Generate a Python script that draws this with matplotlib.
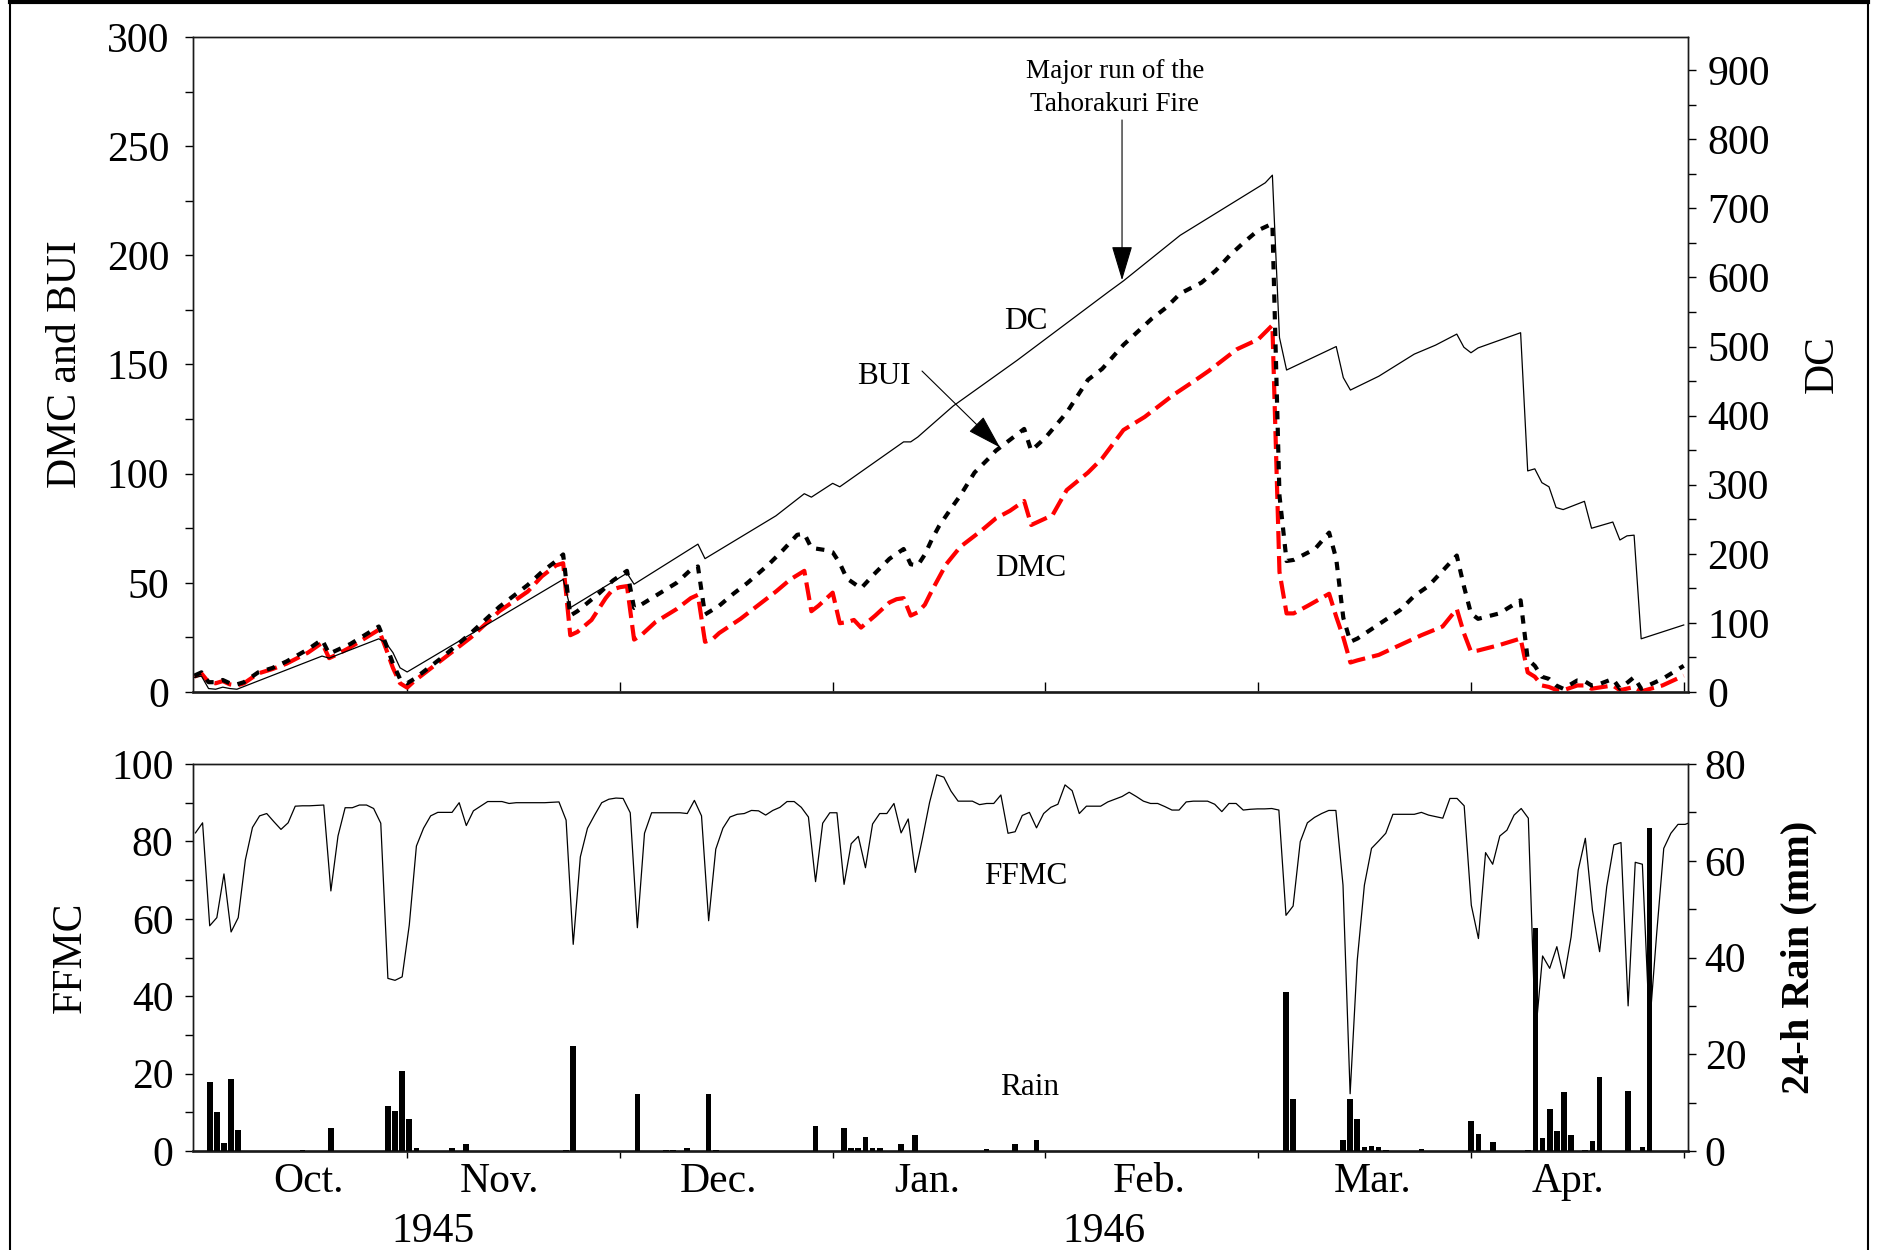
import numpy as np
import matplotlib
matplotlib.use('Agg')
import matplotlib.pyplot as plt
from matplotlib.ticker import MultipleLocator, FixedLocator
from matplotlib.lines import Line2D

plt.rcParams['font.family'] = 'Liberation Serif'

# Day number counted from the first day of the record (late Sept. 1945)
# DC (right axis, top panel)
dc_day = [0, 1, 2, 3, 4, 5, 6, 18, 19, 26, 27, 28, 29, 30, 52, 53, 61, 62, 71, 72,
          82, 86, 87, 90, 91, 100, 101, 102, 107, 116, 129, 131, 139, 145, 151, 152,
          153, 154, 161, 162, 163, 167, 172, 175, 178, 179, 180, 181, 187, 188, 189,
          190, 191, 192, 193, 196, 197, 200, 201, 202, 203, 204, 210]
dc_val = [21, 23, 5, 4, 7, 5, 4, 52, 49, 77, 71, 57, 35, 29, 163, 122, 172, 156, 214, 193,
          255, 287, 282, 302, 297, 362, 362, 369, 414, 480, 580, 595, 661, 699, 737, 748,
          513, 466, 500, 455, 437, 457, 489, 502, 518, 499, 491, 498, 520, 320, 323,
          303, 297, 267, 264, 276, 237, 246, 220, 226, 227, 77, 97]

# BUI (left axis, top panel)
bui_day = [0, 1, 2, 3, 4, 5, 6, 7, 9, 11, 13, 16, 18, 19, 20, 22, 24, 26, 27, 28, 29, 30,
           31, 33, 35, 37, 39, 41, 43, 45, 47, 49, 51, 52, 53, 54, 57, 59, 61, 62, 63, 65,
           68, 70, 71, 72, 74, 76, 78, 81, 83, 85, 86, 87, 89, 90, 91, 92, 94, 96, 98,
           100, 101, 102, 103, 104, 105, 107, 108, 110, 112, 113, 115, 117, 118, 120,
           123, 126, 128, 131, 133, 135, 137, 139, 142, 144, 146, 148, 150, 152, 153,
           154, 155, 158, 160, 161, 162, 163, 164, 167, 170, 172, 174, 176, 178, 179,
           180, 181, 184, 187, 188, 189, 190, 191, 192, 193, 195, 196, 197, 198, 200,
           201, 203, 204, 207, 210]
bui_val = [7.5, 9, 4.5, 4.5, 5.5, 4, 3.5, 4.5, 9, 11, 14, 19.5, 24, 17.5, 19, 22, 26, 30,
           22, 13, 6, 4, 6, 11, 16, 21.5, 27, 33, 39, 44, 49, 55, 60, 63, 35, 37, 45, 51,
           55.5, 38.5, 40, 44, 50, 56, 57.5, 35.5, 39.5, 45, 50, 58.5, 65, 72, 72.5, 66,
           65, 64, 59, 52, 47.5, 54.5, 61, 65.5, 58.5, 58, 63, 70, 76, 85.5, 90, 100.5,
           107, 110.5, 115.5, 120.5, 110.5, 116.5, 128, 143, 148, 159, 165, 171, 176,
           182.5, 187.5, 193, 200, 206, 211.5, 214.5, 90, 60, 60.5, 65.5, 73, 61, 34, 23,
           24.5, 31, 37.5, 44, 48.5, 55.5, 62.5, 48.5, 36, 33.5, 36, 42, 15, 12, 7, 6, 3,
           1.5, 5.3, 5, 3, 3.5, 6, 1.5, 6.8, 1.5, 6, 12]

# DMC (left axis, top panel)
dmc_day = [0, 1, 2, 3, 4, 5, 6, 7, 9, 11, 13, 16, 18, 19, 20, 22, 24, 26, 27, 28, 29, 30,
           31, 33, 35, 37, 39, 41, 43, 45, 47, 49, 51, 52, 53, 54, 56, 57, 58, 59, 60, 61,
           62, 63, 65, 68, 70, 71, 72, 73, 74, 77, 80, 82, 84, 86, 87, 88, 90, 91, 92, 93,
           94, 96, 98, 99, 100, 101, 102, 103, 104, 106, 108, 111, 113, 115, 117, 118,
           119, 121, 123, 126, 128, 131, 134, 136, 138, 141, 143, 145, 147, 150, 152,
           153, 154, 155, 157, 160, 161, 162, 163, 164, 167, 170, 173, 176, 178, 179,
           180, 181, 184, 187, 188, 189, 190, 191, 192, 193, 195, 196, 197, 198, 200,
           201, 203, 204, 207, 210]
dmc_val = [7, 8.5, 4.5, 4, 5, 3.5, 3, 4, 8.5, 10.5, 13, 18, 22.5, 15.5, 17, 20.5, 24.5,
           28.5, 20, 11, 4, 2, 5, 10, 15, 20, 25, 31, 37, 41.5, 46, 53, 58, 59, 26, 27.5,
           33, 38, 43, 47, 48, 48.5, 24, 26, 32, 38, 43, 44.5, 23, 24, 27, 33.5, 41, 46,
           51.5, 55.5, 37, 39.5, 45.5, 31.5, 32, 33, 29.5, 35, 41, 42.5, 43, 35, 36.5, 40,
           46.5, 58.5, 66.5, 74, 79.5, 83, 87.5, 76.5, 78, 81, 92.5, 100.5, 107, 120, 126,
           131, 136, 142.5, 147, 152, 157, 161.5, 168, 55, 36, 36, 39.5, 45, 34.5, 25,
           13.5, 14.5, 17, 21.5, 26, 30, 38, 27, 18.5, 19, 21.5, 24.5, 9, 7, 3, 2.3, 1,
           0.8, 3, 3, 1.5, 2, 3, 0.8, 2.3, 0.3, 3, 7.5]

# FFMC, one value per day (bottom panel, left axis)
ffmc = [82.2, 84.8, 58.2, 60.3, 71.6, 56.6, 60.3, 75.2, 83.6, 86.6,
        87.2, 85.1, 83.1, 84.8, 89.1, 89.2, 89.2, 89.3, 89.4, 67.2,
        81.4, 88.7, 88.7, 89.4, 89.4, 88.5, 84.7, 44.6, 44.1, 45.0,
        58.4, 78.8, 83.4, 86.6, 87.5, 87.5, 87.5, 90.0, 84.1, 87.9,
        89.1, 90.3, 90.3, 90.3, 89.8, 90.0, 90.0, 90.0, 90.0, 90.0,
        90.1, 90.2, 85.5, 53.4, 76.0, 83.4, 86.8, 90.0, 90.9, 91.2,
        91.1, 87.4, 57.7, 82.1, 87.4, 87.4, 87.4, 87.4, 87.4, 87.2,
        90.6, 86.6, 59.5, 78.0, 83.4, 86.3, 87.0, 87.2, 88.0, 87.9,
        86.8, 88.0, 88.8, 90.3, 90.3, 88.8, 86.3, 69.6, 84.7, 87.4,
        87.4, 68.9, 79.4, 81.3, 73.2, 84.5, 87.2, 87.2, 89.8, 82.2,
        85.8, 72.0, 80.8, 90.1, 97.2, 96.6, 93.0, 90.4, 90.4, 90.4,
        89.5, 89.8, 89.8, 92.0, 82.1, 82.5, 86.7, 87.5, 83.5, 87.2,
        88.8, 89.6, 94.6, 93.1, 87.2, 89.1, 89.1, 89.1, 90.2, 90.9,
        91.6, 92.7, 91.6, 90.4, 89.8, 89.8, 89.0, 88.1, 88.1, 90.2,
        90.4, 90.4, 90.4, 89.6, 87.7, 89.8, 89.8, 88.1, 88.3, 88.4,
        88.4, 88.5, 88.1, 60.9, 63.3, 79.9, 84.8, 86.2, 87.2, 88.0,
        88.0, 68.7, 14.8, 49.3, 68.7, 78.2, 80.1, 82.1, 87.0, 87.0,
        87.0, 87.0, 87.5, 86.8, 86.4, 86.0, 91.1, 91.1, 89.2, 63.5,
        54.9, 77.1, 74.1, 81.4, 82.9, 86.8, 88.5, 86.0, 30.0, 50.4,
        47.2, 52.8, 44.6, 55.3, 72.6, 80.8, 62.2, 51.5, 68.3, 79.1,
        79.7, 37.5, 74.6, 74.1, 32.0, 56.0, 78.2, 82.1, 84.4, 84.4,
        85.1]

# 24-h rain (mm), only the days with rain
rain_day = [2, 3, 4, 5, 6, 15, 19, 27, 28, 29, 30, 31, 36, 38, 52, 53, 62, 66, 67, 69,
            72, 73, 87, 91, 92, 93, 94, 95, 96, 99, 101, 111, 115, 118, 153, 154, 161,
            162, 163, 164, 165, 166, 167, 172, 179, 180, 182, 187, 188, 189, 190, 191,
            192, 193, 195, 196, 197, 201, 203, 204]
rain_mm = [14.2, 8.0, 1.6, 14.8, 4.4, 0.3, 4.8, 9.4, 8.2, 16.5, 6.7, 0.6, 0.6, 1.4, 0.3,
           21.8, 11.7, 0.3, 0.3, 0.6, 11.7, 0.3, 5.1, 4.8, 0.6, 0.6, 2.8, 0.6, 0.6, 1.4,
           3.3, 0.5, 1.5, 2.3, 32.9, 10.8, 2.3, 10.8, 6.7, 0.8, 1.0, 0.8, 0.3, 0.5, 6.2,
           3.6, 1.9, 0.3, 46.0, 2.6, 8.6, 4.1, 12.2, 3.3, 0.3, 2.1, 15.2, 12.4, 0.8, 66.8]

# Month and year labels under the axis (bottom panel day numbers)
month_names = ['Oct.', 'Nov.', 'Dec.', 'Jan.', 'Feb.', 'Mar.', 'Apr.']
month_pos = [15.9, 42.6, 73.4, 102.7, 133.8, 165.2, 192.6]
year_names = ['1945', '1946']
year_pos = [33.3, 127.4]

tick_days = [30, 60, 90, 120, 150, 180, 210]

# the two panels were made as separate charts, their day scales differ a little
top_lim = (-0.2, 210.6)
bot_lim = (-0.35, 209.4)
bot_ticks = [bot_lim[0] + (t - top_lim[0]) / (top_lim[1] - top_lim[0]) *
             (bot_lim[1] - bot_lim[0]) for t in tick_days]

fig = plt.figure(figsize=(18.77, 12.5), dpi=100)
ax1 = fig.add_axes([0.1028, 0.4464, 0.7965, 0.524])
ax1b = ax1.twinx()
ax2 = fig.add_axes([0.1028, 0.0792, 0.7965, 0.3096])
ax2b = ax2.twinx()

# ---- top panel: DMC, BUI and DC ----
ax1.plot(dmc_day, dmc_val, color='#ff0000', lw=3.0, linestyle=(0, (4.3, 1.7)))
ax1.plot(bui_day, bui_val, color='black', lw=3.0, linestyle=(0, (2.0, 2.0)))
ax1b.plot(dc_day, dc_val, color='black', lw=0.9)

ax1.set_xlim(*top_lim)
ax1.set_ylim(0, 300)
ax1b.set_ylim(0, 948)

ax1.xaxis.set_major_locator(FixedLocator(tick_days))
ax1.yaxis.set_major_locator(MultipleLocator(50))
ax1.yaxis.set_minor_locator(MultipleLocator(25))
ax1b.yaxis.set_major_locator(MultipleLocator(100))
ax1b.yaxis.set_minor_locator(MultipleLocator(50))

ax1.tick_params(axis='x', direction='in', length=7, width=1, labelbottom=False)
ax1.tick_params(axis='y', which='both', direction='out', length=6, width=1,
                labelsize=30, pad=11)
ax1b.tick_params(axis='y', which='both', direction='out', length=6, width=1,
                 labelsize=30, pad=8)

ax1.set_ylabel('DMC and BUI', fontsize=30, va='center')
ax1.yaxis.set_label_coords(-0.085, 0.5)
ax1b.set_ylabel('DC', fontsize=30, va='center')
ax1b.yaxis.set_label_coords(1.090, 0.5)

ax1.text(117.2, 166.4, 'DC', fontsize=22.5, ha='center', va='baseline')
ax1.text(97.2, 141, 'BUI', fontsize=22.5, ha='center', va='baseline')
ax1.text(117.9, 53, 'DMC', fontsize=22.5, ha='center', va='baseline')
ax1.text(129.8, 281, 'Major run of the', fontsize=19.5, ha='center', va='baseline')
ax1.text(129.8, 266, 'Tahorakuri Fire', fontsize=19.5, ha='center', va='baseline')

arrow = dict(arrowstyle='-|>,head_length=1.0,head_width=0.3', color='black',
             lw=0.8, shrinkA=0, shrinkB=0)
ax1.annotate('', xy=(130.8, 188.6), xytext=(130.8, 262), arrowprops=arrow,
             fontsize=22)
ax1.annotate('', xy=(113.6, 112), xytext=(102.6, 147), arrowprops=arrow,
             fontsize=22)

# ---- bottom panel: FFMC and rain ----
ax2.plot(np.arange(len(ffmc)), ffmc, color='black', lw=0.9)
ax2b.bar(rain_day, rain_mm, width=0.8, color='black')

ax2.set_xlim(*bot_lim)
ax2.set_ylim(0, 100)
ax2b.set_ylim(0, 80)
ax2.xaxis.set_major_locator(FixedLocator(bot_ticks))
ax2.yaxis.set_major_locator(MultipleLocator(20))
ax2.yaxis.set_minor_locator(MultipleLocator(10))
ax2b.yaxis.set_major_locator(MultipleLocator(20))
ax2b.yaxis.set_minor_locator(MultipleLocator(10))

ax2.tick_params(axis='x', direction='out', length=5, width=1, labelbottom=False)
ax2.tick_params(axis='y', which='both', direction='out', length=6, width=1,
                labelsize=30, pad=8)
ax2b.tick_params(axis='y', which='both', direction='out', length=6, width=1,
                 labelsize=30, pad=6)

ax2.set_ylabel('FFMC', fontsize=30, va='center')
ax2.yaxis.set_label_coords(-0.082, 0.5)
ax2b.set_ylabel('24-h Rain (mm)', fontsize=29, fontweight='bold', va='center')
ax2b.yaxis.set_label_coords(1.074, 0.5)

ax2.text(116.5, 69.1, 'FFMC', fontsize=22.5, ha='center', va='baseline')
ax2.text(117.0, 14.4, 'Rain', fontsize=22.5, ha='center', va='baseline')

trans = ax2.get_xaxis_transform()
for name, pos in zip(month_names, month_pos):
    ax2.text(pos, -0.107, name, transform=trans, fontsize=30, ha='center', va='baseline')
for name, pos in zip(year_names, year_pos):
    ax2.text(pos, -0.234, name, transform=trans, fontsize=30, ha='center', va='baseline')

for ax in [ax1, ax1b, ax2, ax2b]:
    for s in ax.spines.values():
        s.set_color('#1a1a1a')
        s.set_linewidth(1.0)
for ax in [ax1, ax2]:
    ax.spines['bottom'].set_linewidth(2.0)
    ax.spines['bottom'].set_color('#333333')

# frame around the whole figure
fig.add_artist(Line2D([10 / 1877, 1868 / 1877], [1 - 2 / 1250, 1 - 2 / 1250],
                      color='black', lw=3, transform=fig.transFigure))
fig.add_artist(Line2D([10 / 1877, 10 / 1877], [0, 1], color='black', lw=1.5,
                      transform=fig.transFigure))
fig.add_artist(Line2D([1868 / 1877, 1868 / 1877], [0, 1], color='black', lw=1.5,
                      transform=fig.transFigure))

fig.savefig('out.png', dpi=100)
